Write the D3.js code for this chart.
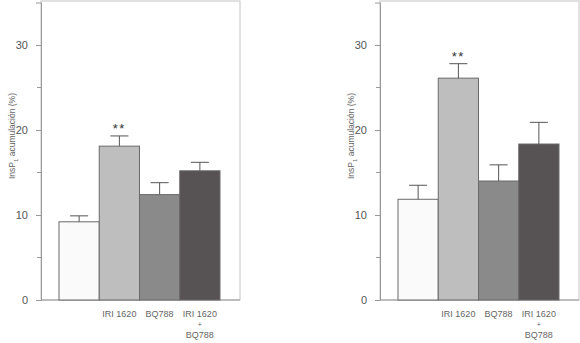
<!DOCTYPE html>
<html>
<head>
<meta charset="utf-8">
<script src="https://cdn.jsdelivr.net/npm/d3@7"></script>
<style>
  body { margin: 0; background: #fff; }
  svg { display: block; font-family: "Liberation Sans", Arial, sans-serif; }
</style>
</head>
<body>
<svg id="chart" width="580" height="343"></svg>
<script>
// data
var categories = ["Control", "IRI 1620", "BQ788", "IRI 1620 + BQ788"];
var leftValues = [9.2, 18.1, 12.4, 15.2];
var leftErrors = [0.7, 1.2, 1.4, 1.0];
var rightValues = [11.85, 26.1, 14.0, 18.35];
var rightErrors = [1.65, 1.7, 1.9, 2.55];
var barColors = ["#fafafa", "#bebebe", "#8a8a8a", "#575253"];
var yTicks = [0, 10, 20, 30];
var yMinorTicks = [5, 15, 25];

var svg = d3.select("#chart");

function panel(left, values, errors) {
  var frameL = left, frameR = left + 199,
      top = 1, bottom = 300;

  var y = d3.scaleLinear().domain([0, 35]).range([bottom, 2.5]);
  var x = d3.scaleBand().domain(categories).range([left + 18, left + 179]).padding(0);

  var g = svg.append("g");

  // frame
  g.append("rect")
      .attr("x", frameL).attr("y", top)
      .attr("width", frameR - frameL).attr("height", bottom - top)
      .attr("fill", "none").attr("stroke", "#c4c4c4");

  // y axis
  var ax = g.append("g")
      .attr("transform", "translate(" + frameL + ",0)")
      .call(d3.axisLeft(y).tickValues(yTicks).tickSize(5).tickPadding(8));
  ax.select(".domain").attr("stroke", "#999");
  ax.selectAll(".tick line").attr("stroke", "#999");
  ax.selectAll(".tick text")
      .attr("font-size", 11).attr("fill", "#555")
      .attr("font-family", "Liberation Sans, Arial, sans-serif");

  g.selectAll(".minor")
      .data(yMinorTicks)
    .enter().append("line")
      .attr("x1", frameL - 4).attr("x2", frameL)
      .attr("y1", function(d) { return y(d); })
      .attr("y2", function(d) { return y(d); })
      .attr("stroke", "#999");

  // bottom line
  g.append("line")
      .attr("x1", frameL).attr("x2", frameR)
      .attr("y1", bottom).attr("y2", bottom)
      .attr("stroke", "#999");

  // bars
  g.selectAll(".bar")
      .data(values)
    .enter().append("rect")
      .attr("x", function(d, i) { return x(categories[i]); })
      .attr("y", function(d) { return y(d); })
      .attr("width", x.bandwidth())
      .attr("height", function(d) { return y(0) - y(d); })
      .attr("fill", function(d, i) { return barColors[i]; })
      .attr("stroke", "#6a6a6a")
      .attr("stroke-width", 1);

  // error bars
  values.forEach(function(v, i) {
    var cx = x(categories[i]) + x.bandwidth() / 2;
    g.append("line")
        .attr("x1", cx).attr("x2", cx)
        .attr("y1", y(v)).attr("y2", y(v + errors[i]))
        .attr("stroke", "#555");
    g.append("line")
        .attr("x1", cx - 9).attr("x2", cx + 9)
        .attr("y1", y(v + errors[i])).attr("y2", y(v + errors[i]))
        .attr("stroke", "#555");
  });

  // significance
  var c1 = x(categories[1]) + x.bandwidth() / 2;
  g.append("text")
      .attr("x", c1).attr("y", y(values[1] + errors[1]) - 3)
      .attr("text-anchor", "middle")
      .attr("font-size", 13).attr("fill", "#333")
      .attr("letter-spacing", 1.5)
      .text("**");

  // category labels
  var lab = function(i, txt, yy, fs) {
    g.append("text")
        .attr("x", x(categories[i]) + x.bandwidth() / 2)
        .attr("y", yy)
        .attr("text-anchor", "middle")
        .attr("font-size", fs || 9).attr("fill", "#666")
        .text(txt);
  };
  lab(1, "IRI 1620", 317);
  lab(2, "BQ788", 317);
  lab(3, "IRI  1620", 317);
  lab(3, "+", 327, 7);
  lab(3, "BQ788", 338);

  // y label
  var t = g.append("text")
      .attr("transform", "translate(" + (left - 26) + ",136) rotate(-90)")
      .attr("text-anchor", "middle")
      .attr("font-size", 8.5).attr("fill", "#666");
  t.append("tspan").text("InsP");
  t.append("tspan").attr("font-size", 6).attr("dy", 3).text("1");
  t.append("tspan").attr("dy", -3).text(" acumulación (%)");
}

panel(41, leftValues, leftErrors);
panel(380, rightValues, rightErrors);
</script>
</body>
</html>
